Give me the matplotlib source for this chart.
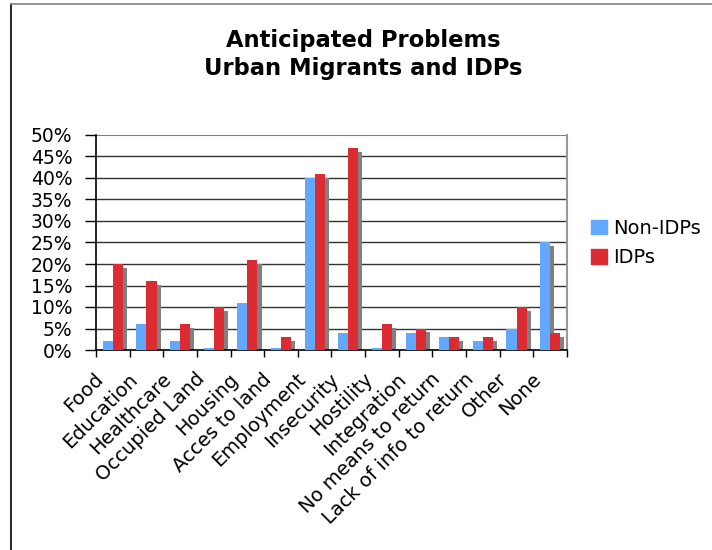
import numpy as np
import matplotlib.pyplot as plt
from matplotlib.lines import Line2D
from matplotlib.patches import Patch
from matplotlib.transforms import ScaledTranslation

categories = ['Food', 'Education', 'Healthcare', 'Occupied Land', 'Housing',
              'Acces to land', 'Employment', 'Insecurity', 'Hostility',
              'Integration', 'No means to return', 'Lack of info to return',
              'Other', 'None']
non_idps = [2, 6, 2, 0.5, 11, 0.5, 40, 4, 0.5, 4, 3, 2, 5, 25]
idps = [20, 16, 6, 10, 21, 3, 41, 47, 6, 5, 3, 3, 10, 4]
y_ticks = [0, 5, 10, 15, 20, 25, 30, 35, 40, 45, 50]

blue = '#62a8ff'
red = '#dc2b33'
shadow = '#808080'

W, H = 712, 550
fig = plt.figure(figsize=(W / 100, H / 100), dpi=100)
ax = fig.add_axes([96 / W, 1 - 350 / H, (567 - 96) / W, (350 - 135) / H])

x = np.arange(len(categories))
bw = 0.3
dx, dy = 0.12, 0.9

# grid first, bars on top
for t in y_ticks[1:-1]:
    ax.axhline(t, color='#333333', lw=1.0, zorder=1)
ax.axhline(50, color='#808080', lw=1.5, zorder=1)

# drop shadows
sh_b = np.clip(np.array(non_idps) - dy, 0, None)
sh_r = np.clip(np.array(idps) - dy, 0, None)
ax.bar(x - bw / 2 + dx, sh_b, bw, color=shadow, zorder=2, linewidth=0)
ax.bar(x + bw / 2 + dx, sh_r, bw, color=shadow, zorder=2, linewidth=0)

ax.bar(x - bw / 2, non_idps, bw, color=blue, zorder=3, linewidth=0, label='Non-IDPs')
ax.bar(x + bw / 2, idps, bw, color=red, zorder=3, linewidth=0, label='IDPs')

ax.set_xlim(-0.5, len(categories) - 0.5)
ax.set_ylim(0, 50)
ax.set_yticks(y_ticks)
ax.set_yticklabels([f'{t}%' for t in y_ticks])
ax.tick_params(axis='y', direction='out', length=8, width=1, pad=9, labelsize=13.5)

ax.set_xticks(x)
ax.set_xticks(np.arange(-0.5, len(categories)), minor=True)
ax.set_xticklabels(categories, rotation=45, ha='right', va='center',
                   rotation_mode='anchor', fontsize=14)
ax.tick_params(axis='x', which='major', length=0, pad=16)
ax.tick_params(axis='x', which='minor', direction='out', length=5, width=1)
shift = ScaledTranslation(-12 / 100, -4 / 100, fig.dpi_scale_trans)
for lab in ax.get_xticklabels():
    lab.set_transform(lab.get_transform() + shift)

ax.spines['top'].set_visible(False)
ax.spines['right'].set_color('#999999')
ax.spines['right'].set_linewidth(1.5)
for s in ['left', 'bottom']:
    ax.spines[s].set_color('black')
    ax.spines[s].set_linewidth(1.2)

fig.text(363 / W, 1 - 40 / H, 'Anticipated Problems', ha='center', va='center',
         fontsize=16.3, fontweight='bold')
fig.text(363 / W, 1 - 69 / H, 'Urban Migrants and IDPs', ha='center', va='center',
         fontsize=16.3, fontweight='bold')

handles = [Patch(color=blue), Patch(color=red)]
fig.legend(handles, ['Non-IDPs', 'IDPs'], loc='center left',
           bbox_to_anchor=(591 / W, 1 - 243 / H), frameon=False, fontsize=14,
           handlelength=0.8, handleheight=0.75, handletextpad=0.35,
           labelspacing=0.55, borderpad=0, borderaxespad=0)

# outer chart frame (left and top edges)
fig.add_artist(Line2D([11 / W, 11 / W], [0, 1 - 4 / H], color='black', lw=1.2))
fig.add_artist(Line2D([11 / W, 1], [1 - 4 / H, 1 - 4 / H], color='#808080', lw=1.2))

fig.savefig('out.png', dpi=100)
